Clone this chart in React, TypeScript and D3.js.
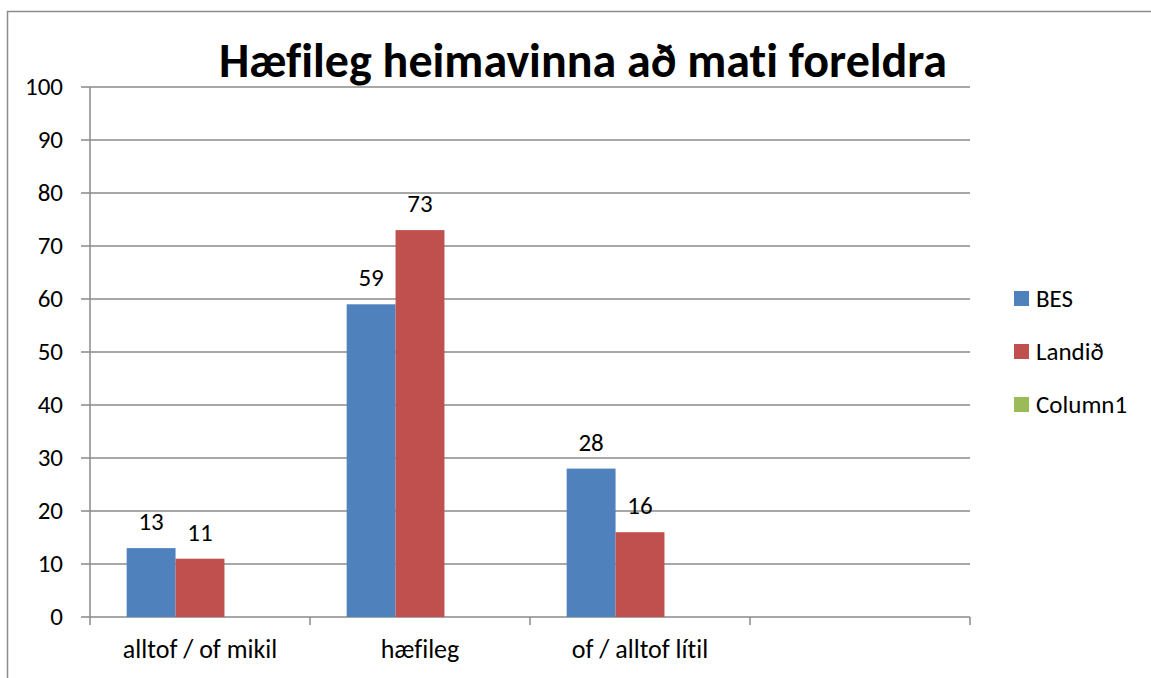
import * as d3 from "d3";

const categories = ["alltof / of mikil", "hæfileg", "of / alltof lítil", ""];
const seriesNames = ["BES", "Landið", "Column1"];
const seriesColors = ["#4f81bd", "#c0504d", "#9bbb59"];
const bes = [13, 59, 28, null];
const landid = [11, 73, 16, null];
const column1 = [null, null, null, null];
const yTicks = [0, 10, 20, 30, 40, 50, 60, 70, 80, 90, 100];

const W = 1151;
const H = 678;
const LEFT = 90;
const RIGHT = 970;
const TOP = 87;
const BOTTOM = 617;
const FONT = "Carlito, Calibri, Lato, 'Open Sans', sans-serif";
const FS = 25;

const App = () => {
  const series = [bes, landid, column1];
  const x = d3.scaleBand<string>().domain(categories.map((_, i) => String(i))).range([LEFT, RIGHT]);
  // 3 bars per group, gap of 150% of a bar width
  const barW = x.bandwidth() / 4.5;
  const y = d3.scaleLinear().domain([0, 100]).range([BOTTOM, TOP]);
  const boundaries = d3.range(categories.length + 1).map((i) => LEFT + i * x.step());

  return (
    <svg
      width={W}
      height={H}
      style={{
        position: "absolute",
        left: 0,
        top: 0,
        background: "#fff",
        fontVariantLigatures: "none",
        fontFeatureSettings: '"liga" 0, "clig" 0, "dlig" 0',
      }}
      fontFamily={FONT}
    >
      <rect x={7.5} y={11.5} width={W + 10} height={H + 10} fill="#fff" stroke="#8c8c8c" strokeWidth={1.5} />
      <text x={583} y={77} textAnchor="middle" fontSize={48} fontWeight="bold" fill="#000">
        Hæfileg heimavinna að mati foreldra
      </text>
      {/* gridlines and y axis */}
      {yTicks.map((t) => (
        <g key={t}>
          <line x1={81} x2={RIGHT} y1={y(t)} y2={y(t)} stroke="#8a8a8a" strokeWidth={1.5} />
          <text x={63} y={y(t)} dy="0.33em" textAnchor="end" fontSize={FS} fill="#000">
            {t}
          </text>
        </g>
      ))}
      <line x1={LEFT} x2={LEFT} y1={TOP} y2={BOTTOM + 8} stroke="#8a8a8a" strokeWidth={1.5} />
      {boundaries.slice(1).map((bx, i) => (
        <line key={i} x1={bx} x2={bx} y1={BOTTOM} y2={BOTTOM + 8} stroke="#8a8a8a" strokeWidth={1.5} />
      ))}
      {/* bars */}
      {series.map((s, si) =>
        s.map((v, ci) => {
          if (v == null) return null;
          const bx = (x(String(ci)) as number) + (x.bandwidth() - 3 * barW) / 2 + si * barW;
          return (
            <g key={`${si}-${ci}`}>
              <rect x={bx} y={y(v)} width={barW} height={BOTTOM - y(v)} fill={seriesColors[si]} />
              <text x={bx + barW / 2} y={y(v) - 18} textAnchor="middle" fontSize={FS} fill="#000">
                {v}
              </text>
            </g>
          );
        })
      )}
      {/* category labels */}
      {categories.map((c, i) => (
        <text
          key={i}
          x={(x(String(i)) as number) + x.bandwidth() / 2}
          y={658}
          textAnchor="middle"
          fontSize={26}
          fill="#000"
        >
          {c}
        </text>
      ))}
      {/* legend */}
      {seriesNames.map((n, i) => (
        <g key={n} transform={`translate(1014, ${291 + i * 53})`}>
          <rect width={15} height={15} fill={seriesColors[i]} />
          <text x={22} y={8} dy="0.33em" fontSize={FS} fill="#000">
            {n}
          </text>
        </g>
      ))}
    </svg>
  );
};

export default App;
